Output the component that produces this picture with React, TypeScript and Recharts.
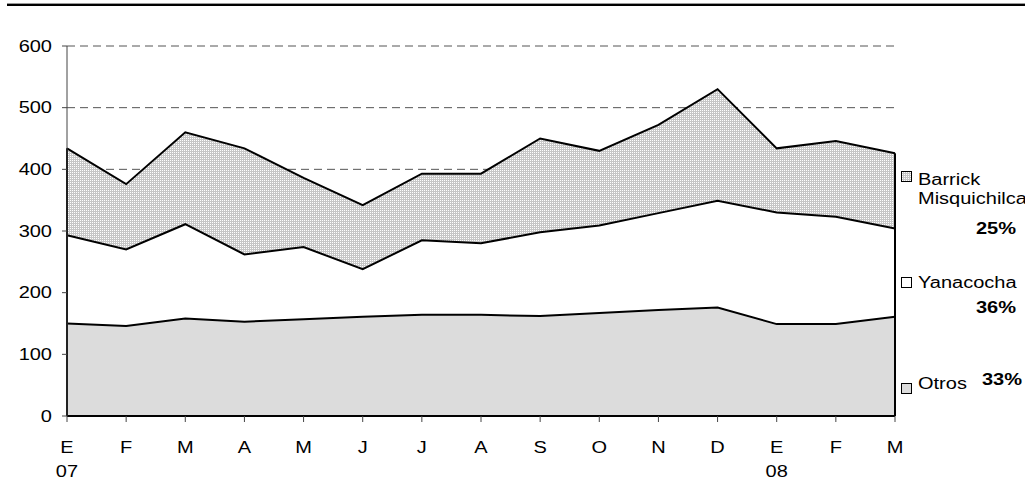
import React from 'react';
import { ComposedChart, Area, Line, XAxis, YAxis, CartesianGrid, ReferenceLine } from 'recharts';

// months Ene-07 .. Mar-08
const months = ['E', 'F', 'M', 'A', 'M', 'J', 'J', 'A', 'S', 'O', 'N', 'D', 'E', 'F', 'M'];
const years = ['07', '', '', '', '', '', '', '', '', '', '', '', '08', '', ''];

const otros = [150, 146, 158, 153, 157, 161, 164, 164, 162, 167, 172, 176, 149, 149, 161];
const yanacocha = [143, 124, 153, 109, 117, 77, 121, 116, 136, 142, 157, 173, 181, 174, 143];
const barrick = [141, 106, 149, 172, 112, 104, 108, 113, 152, 121, 143, 181, 104, 123, 122];

const yTicks = [0, 100, 200, 300, 400, 500, 600];

const FONT = '"Liberation Sans", Arial, sans-serif';
const STRETCH = 1.25;

const data = months.map((m, i) => ({
  id: `m${i}`,
  month: m,
  year: years[i],
  otros: otros[i],
  yanacocha: yanacocha[i],
  barrick: barrick[i],
}));

const first = data[0];
const last = data[data.length - 1];
const total = (d: any) => d.otros + d.yanacocha + d.barrick;

const YTick = ({ x, y, payload }: any) => (
  <g transform={`translate(${x},${y}) scale(${STRETCH},1)`}>
    <text x={0} y={0} dy={5.7} textAnchor="end" fontSize={16} fontFamily={FONT} fill="#000">
      {payload.value}
    </text>
  </g>
);

const XTick = ({ x, y, payload, index }: any) => (
  <g transform={`translate(${x},${y}) scale(${STRETCH},1)`}>
    <text x={0} y={0} dy={29} textAnchor="middle" fontSize={16} fontFamily={FONT} fill="#000">
      {months[index]}
    </text>
    {years[index] && (
      <text x={0} y={0} dy={53.5} textAnchor="middle" fontSize={16} fontFamily={FONT} fill="#000">
        {years[index]}
      </text>
    )}
  </g>
);

const LegendText = ({ x, y, bold, children }: any) => (
  <g transform={`translate(${x},${y}) scale(${STRETCH},1)`}>
    <text x={0} y={0} fontSize={16} fontFamily={FONT} fontWeight={bold ? 'bold' : 'normal'} fill="#000">
      {children}
    </text>
  </g>
);

export default function App() {
  return (
    <div style={{ position: 'absolute', left: 0, top: 0, width: 1025, height: 483, background: '#fff', overflow: 'hidden' }}>
      <svg width={0} height={0} style={{ position: 'absolute' }}>
        <defs>
          <pattern id="dots" width={2} height={2} patternUnits="userSpaceOnUse">
            <rect width={2} height={2} fill="#c6c6c6" />
            <rect width={1} height={1} fill="#ffffff" />
          </pattern>
        </defs>
      </svg>
      {/* frame line at the top */}
      <div style={{ position: 'absolute', left: 7, top: 3, width: 1018, height: 1, background: '#999' }} />
      <div style={{ position: 'absolute', left: 7, top: 4, width: 1018, height: 2, background: '#000' }} />

      <ComposedChart width={1025} height={483} data={data} margin={{ top: 46, right: 130, left: 0, bottom: 0 }}>
        <CartesianGrid vertical={false} stroke="#555" strokeDasharray="8 5" />
        <Area type="linear" dataKey="otros" stackId="s" fill="#dcdcdc" fillOpacity={1} stroke="none" isAnimationActive={false} />
        <Area type="linear" dataKey="yanacocha" stackId="s" fill="#ffffff" fillOpacity={1} stroke="none" isAnimationActive={false} />
        <Area type="linear" dataKey="barrick" stackId="s" fill="url(#dots)" fillOpacity={1} stroke="none" isAnimationActive={false} />
        <Line type="linear" dataKey={(d: any) => d.otros} stroke="#000" strokeWidth={2} dot={false} isAnimationActive={false} />
        <Line type="linear" dataKey={(d: any) => d.otros + d.yanacocha} stroke="#000" strokeWidth={2} dot={false} isAnimationActive={false} />
        <Line type="linear" dataKey={total} stroke="#000" strokeWidth={2} dot={false} isAnimationActive={false} />
        <XAxis
          dataKey="id"
          height={67}
          interval={0}
          tickSize={6}
          tickMargin={2}
          tick={<XTick />}
          axisLine={{ stroke: '#000', strokeWidth: 2 }}
          tickLine={{ stroke: '#444' }}
        />
        <YAxis
          width={67}
          domain={[0, 600]}
          ticks={yTicks}
          tickSize={5}
          tickMargin={10}
          tick={<YTick />}
          axisLine={{ stroke: '#444' }}
          tickLine={{ stroke: '#444' }}
        />
        <ReferenceLine segment={[{ x: first.id, y: 0 }, { x: first.id, y: total(first) }]} stroke="#000" strokeWidth={2} />
        <ReferenceLine segment={[{ x: last.id, y: 0 }, { x: last.id, y: total(last) }]} stroke="#000" strokeWidth={2} />
      </ComposedChart>

      <svg width={1025} height={483} style={{ position: 'absolute', left: 0, top: 0, pointerEvents: 'none' }}>
        <rect x={901.5} y={171.5} width={10} height={10} fill="url(#dots)" stroke="#000" />
        <LegendText x={918} y={185}>Barrick</LegendText>
        <LegendText x={918} y={204}>Misquichilca</LegendText>
        <LegendText x={976} y={234} bold>25%</LegendText>

        <rect x={901.5} y={277.5} width={10} height={10} fill="#fff" stroke="#000" />
        <LegendText x={918} y={288}>Yanacocha</LegendText>
        <LegendText x={976} y={313} bold>36%</LegendText>

        <rect x={901.5} y={383.5} width={10} height={10} fill="#dcdcdc" stroke="#000" />
        <LegendText x={918} y={389}>Otros</LegendText>
        <LegendText x={982} y={385} bold>33%</LegendText>
      </svg>
    </div>
  );
}
